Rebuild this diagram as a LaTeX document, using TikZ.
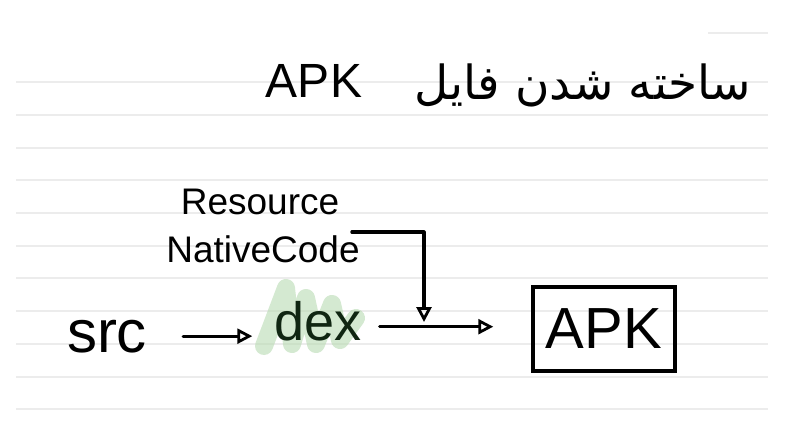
\documentclass[tikz,border=0pt]{standalone}
\usepackage{fontspec}
\setmainfont{Liberation Sans}
\newfontfamily\arabicfont[Script=Arabic]{DejaVu Sans}
\TeXXeTstate=1
\usetikzlibrary{arrows.meta}
\definecolor{rule}{RGB}{236,236,236}
\definecolor{hl}{RGB}{178,216,172}
\definecolor{dexgreen}{RGB}{16,38,18}
\tikzset{
  hand/.style={inner sep=0pt, anchor=base, text=black},
  conn/.style={line width=3.2pt, line cap=round, line join=round,
    -{Triangle[open, length=15pt, width=15pt, line width=2.8pt]}},
  apkbox/.style={draw, line width=3.5pt, inner sep=0pt, minimum width=142pt,
    minimum height=84pt, font=\fontsize{58}{60}\selectfont},
  ruled/.style={draw=rule, line width=1.2pt}
}
\begin{document}
\begin{tikzpicture}[x=1pt, y=-1pt]
\useasboundingbox[fill=white] (0,0) rectangle (787,442);
% ruled paper
\draw[ruled] (708,33) -- (768,33);
\foreach \yy in {82,115,148,180,213,246,278,311,344,377,409}
  \draw[ruled] (16,\yy) -- (768,\yy);
% title
\node[hand, font=\fontsize{48}{50}\selectfont] (titleapk) at (314,97) {APK};
\node[hand, font=\fontsize{47}{50}\selectfont] (titlefa) at (583,99)
  {\arabicfont\beginR ساخته شدن فایل\endR};
% highlight behind dex
\draw[hl, opacity=0.55, line width=18pt, line cap=round, line join=round]
  (264,346) -- (286,288) -- (292,344) -- (306,298) -- (316,344) -- (332,304)
  -- (340,340) -- (356,318);
% texts
\node[hand, font=\fontsize{37}{40}\selectfont] (resource) at (260,214) {Resource};
\node[hand, font=\fontsize{37}{40}\selectfont] (native) at (263,262) {NativeCode};
\node[hand, font=\fontsize{60}{62}\selectfont] (src) at (107,352) {src};
\node[hand, text=dexgreen, font=\fontsize{54}{56}\selectfont] (dex) at (318,340) {dex};
\node[apkbox] (apk) at (604,329) {APK};
% connectors
\coordinate (dexout) at ([yshift=-6pt]dex.east);
\coordinate (join) at (424,322);
\draw[conn, shorten <=36pt, shorten >=22pt] (src.east) -- (dex.west |- src.east);
\draw[conn, shorten <=18pt, shorten >=38pt] (dexout) -- (apk.west |- dexout);
\draw[conn] ([xshift=-8pt, yshift=3pt]native.north east) -| (join);
\end{tikzpicture}
\end{document}
